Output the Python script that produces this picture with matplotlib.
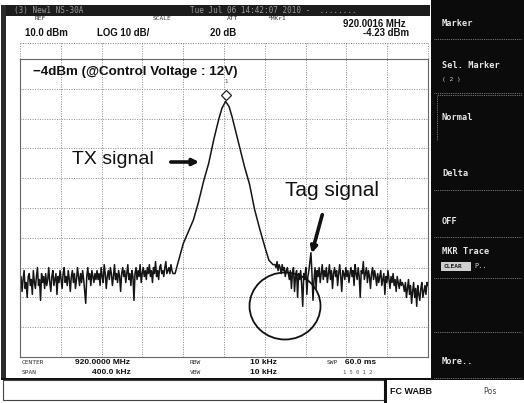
import matplotlib.pyplot as plt
import numpy as np
from matplotlib.patches import Rectangle, Ellipse

FIG_W, FIG_H = 524, 403

# trace (dBm)
left_noise_dbm = [
    -66, -63, -68, -64, -61, -67, -65, -70, -63, -62, -66, -64, -69, -61, -65, -67, -63, -60, -66, -64, -71, -62, -65, -63, -67,
    -62, -66, -64, -60, -65, -68, -63, -61, -66, -64, -62, -69, -63, -65, -61, -64, -67, -62, -60, -65, -63, -66, -61, -64, -68,
    -63, -61, -65, -62, -67, -64, -60, -63, -66, -62, -65, -61, -64, -68, -72, -63, -60, -64, -62, -66, -61, -63, -65, -62, -64,
    -61, -64, -62, -66, -60, -63, -65, -59, -62, -67, -63, -61, -64, -60, -62, -66, -63, -59, -64, -62, -65, -61, -63, -68, -62,
    -60, -63, -61, -65, -62, -59, -64, -62, -66, -61, -63, -71, -62, -60, -64, -61, -63, -59, -65, -62, -60, -63, -61, -64, -60,
    -62, -59, -63, -61, -65, -60, -62, -58, -63, -61, -64, -60, -59, -62, -61, -63, -60, -58, -62, -61, -60, -62, -59, -61, -62,
]
tx_freq_mhz = [919.952, 919.954, 919.960, 919.965, 919.970, 919.975, 919.980, 919.985,
               919.990, 919.995, 919.998, 920.0016, 920.005, 920.008, 920.012, 920.016,
               920.020, 920.025, 920.030, 920.035, 920.040, 920.044, 920.048]
tx_dbm = [-62, -59.5, -52, -48, -44, -38, -31, -25,
          -17, -10, -6.5, -4.23, -6, -9.5, -15, -20.5,
          -26, -32, -40.5, -47, -53, -57.5, -59]
right_noise_dbm = [
    -59, -60, -58, -61, -59, -60, -62, -59, -61, -60, -63, -61, -60, -62, -64, -61, -67, -62, -60, -68, -63, -61, -70, -62, -64,
    -61, -66, -73, -62, -64, -60, -69, -63, -61, -58, -55, -62, -71, -64, -60, -67, -61, -63, -60, -65, -62, -59, -64, -61, -63,
    -60, -65, -62, -59, -64, -61, -67, -62, -60, -63, -61, -66, -62, -59, -63, -68, -61, -62, -64, -60, -63, -61, -65, -62, -60,
    -63, -61, -66, -59, -62, -64, -60, -63, -70, -61, -62, -58, -64, -62, -60, -65, -61, -63, -67, -62, -60, -64, -61, -63, -66,
    -62, -65, -63, -61, -66, -64, -62, -69, -63, -65, -61, -64, -67, -63, -65, -62, -66, -64, -68, -63, -65, -67, -64, -66, -65,
    -66, -68, -65, -70, -67, -64, -69, -66, -72, -68, -65, -70, -67, -73, -66, -69, -71, -67, -65, -70, -68, -66, -69, -65, -66,
]
marker_freq_mhz = 920.0016
marker_dbm = -4.23

start_mhz, stop_mhz = 919.8, 920.2
ref_dbm, bottom_dbm = 10, -90

left_freq = np.linspace(start_mhz, 919.950, len(left_noise_dbm))
right_freq = np.linspace(920.050, stop_mhz, len(right_noise_dbm))
freq = np.concatenate([left_freq, tx_freq_mhz, right_freq])
level = np.concatenate([left_noise_dbm, tx_dbm, right_noise_dbm])

fig = plt.figure(figsize=(FIG_W / 100, FIG_H / 100), dpi=100)
fig.patch.set_facecolor("white")

# graticule
ax = fig.add_axes([20 / FIG_W, 1 - 357 / FIG_H, 408 / FIG_W, 298 / FIG_H], zorder=1)
ax.set_xlim(start_mhz, stop_mhz)
ax.set_ylim(bottom_dbm, ref_dbm)
ax.set_xticks(np.linspace(start_mhz, stop_mhz, 11))
ax.set_yticks(np.linspace(bottom_dbm, ref_dbm, 11))
ax.tick_params(length=0, labelleft=False, labelbottom=False)
ax.grid(True, color="#8a8a8a", linestyle=(0, (1, 1.5)), linewidth=0.7)
for sp in ax.spines.values():
    sp.set_color("#666")
    sp.set_linestyle((0, (1, 1)))
    sp.set_linewidth(0.8)

ax.plot(freq, level, color="#151515", linewidth=1.1)
ax.plot(marker_freq_mhz, marker_dbm + 2, marker="D", ms=5, mfc="white", mec="#222", mew=0.9)
ax.text(marker_freq_mhz, marker_dbm + 6, "1", fontsize=4, ha="center", va="bottom", color="#444")

# everything else in screen pixels
ov = fig.add_axes([0, 0, 1, 1], zorder=2)
ov.set_xlim(0, FIG_W)
ov.set_ylim(FIG_H, 0)
ov.axis("off")
ov.patch.set_alpha(0)


def txt(x, y, s, **kw):
    kw.setdefault("va", "center")
    kw.setdefault("ha", "left")
    ov.text(x, y, s, **kw)


dark = "#111111"
mono = "DejaVu Sans Mono"

# left frame and title bar
ov.add_patch(Rectangle((1, 5), 5, 373, color="#2a2a2a", lw=0))
ov.add_patch(Rectangle((6, 5), 424, 11, color="#1c1c1c", lw=0))
txt(14, 10.5, "(3) New1 NS-30A", fontsize=5.5, color="#9a9a9a", family=mono)
txt(190, 10.5, "Tue Jul 06 14:42:07 2010 -  ........", fontsize=5.5, color="#9a9a9a", family=mono)

# header
for x, s in [(35, "REF"), (153, "SCALE"), (227, "ATT"), (268, "*MKr1")]:
    txt(x, 19, s, fontsize=4.5, color="#333", family=mono)
hdr = dict(fontsize=6.9, fontweight="bold", color=dark, family="Liberation Sans")
txt(343, 24, "920.0016 MHz", **hdr)
txt(25, 33, "10.0 dBm", **hdr)
txt(97, 33, "LOG 10 dB/", **hdr)
txt(210, 33, "20 dB", **hdr)
txt(363, 33, "-4.23 dBm", **hdr)
ov.plot([20, 428], [43, 43], color="#777", lw=0.7, ls=(0, (1, 1.5)))
for x in np.linspace(20, 428, 11):
    ov.plot([x, x], [43, 59], color="#8a8a8a", lw=0.7, ls=(0, (1, 1.5)))

txt(33, 72, "\u22124dBm (@Control Voltage : 12V)", fontsize=9.6, fontweight="bold",
    color=dark, family="Liberation Sans")

# annotations
txt(72, 160, "TX signal", fontsize=14, color=dark, family="Liberation Sans")
ov.annotate("", xy=(202, 162), xytext=(168, 162),
            arrowprops=dict(arrowstyle="-|>", lw=2.6, color=dark, mutation_scale=9))
txt(285, 191, "Tag signal", fontsize=15, color=dark, family="Liberation Sans")
ov.annotate("", xy=(311, 256), xytext=(323, 212),
            arrowprops=dict(arrowstyle="-|>", lw=2.6, color=dark, mutation_scale=9))
ov.add_patch(Ellipse((285, 306), 71, 67, fill=False, lw=1.3, ec=dark))

# bottom settings
small = dict(fontsize=4.5, color="#333", family=mono)
low = dict(fontsize=6.0, fontweight="bold", color=dark, family="Liberation Sans")
txt(22, 363, "CENTER", **small)
txt(22, 373, "SPAN", **small)
txt(190, 363, "RBW", **small)
txt(190, 373, "VBW", **small)
txt(327, 363, "SWP", **small)
txt(343, 373, "1 5 0 1 2", fontsize=4, color="#555", family=mono)
txt(75, 363, "920.0000 MHz", **low)
txt(92, 373, "400.0 kHz", **low)
txt(250, 363, "10 kHz", **low)
txt(250, 373, "10 kHz", **low)
txt(345, 363, "60.0 ms", **low)

# status bar
ov.add_patch(Rectangle((1, 378), 430, 1.6, color=dark, lw=0))
ov.add_patch(Rectangle((3, 380), 381, 20, fill=False, ec="#444", lw=0.8))
ov.add_patch(Rectangle((384, 380), 2.5, 23, color=dark, lw=0))
txt(390, 391, "FC WABB", fontsize=6.5, fontweight="bold", color=dark, family="Liberation Sans")
txt(483, 391, "Pos", fontsize=5.5, color="#444", family=mono)

# soft-key panel
ov.add_patch(Rectangle((431, 0), 93, 380, color="#0b0b0b", lw=0))
menu = dict(fontsize=6.2, color="#e6e6e6", family=mono, fontweight="bold")
txt(442, 24, "Marker", **menu)
txt(442, 66, "Sel. Marker", **menu)
txt(442, 80, "( 2 )", fontsize=4.5, color="#cfcfcf", family=mono)
txt(442, 118, "Normal", **menu)
txt(442, 173, "Delta", **menu)
txt(442, 222, "OFF", **menu)
txt(442, 252, "MKR Trace", **menu)
ov.add_patch(Rectangle((441, 262), 30, 9, color="#cfcfcf", lw=0))
txt(443, 266.5, "CLEAR", fontsize=4.5, color="#222", family=mono, fontweight="bold")
txt(474, 266.5, "P..", fontsize=5, color="#cfcfcf", family=mono)
txt(442, 362, "More..", **menu)
for y in [39, 93, 190, 237, 278, 332, 378]:
    ov.plot([434, 522], [y, y], color="#9a9a9a", lw=0.6, ls=(0, (1, 1.2)))
ov.plot([437, 437, 522], [140, 95, 95], color="#9a9a9a", lw=0.6, ls=(0, (1, 1.2)))

fig.savefig("out.png", dpi=100)
